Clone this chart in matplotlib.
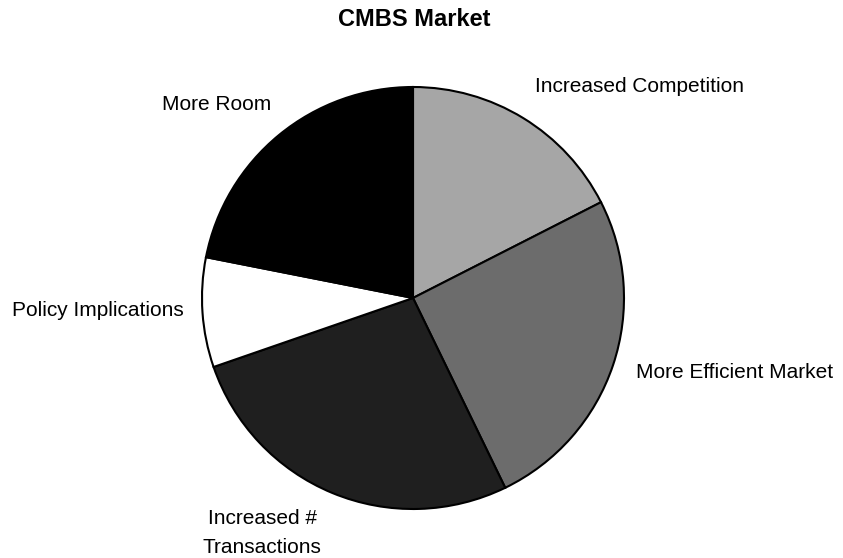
import matplotlib.pyplot as plt

# slice shares (clockwise from 12 o'clock)
labels = ['Increased Competition', 'More Efficient Market', 'Increased #\nTransactions',
          'Policy Implications', 'More Room']
values = [17.5, 25.3, 26.9, 8.4, 21.9]
colors = ['#a6a6a6', '#6c6c6c', '#1f1f1f', '#ffffff', '#000000']

# where each label sits (pixel coords, top-left origin) and its alignment
label_pos = [(535, 87, 'left'), (636, 373, 'left'), (262, 533, 'center'),
             (12, 310, 'left'), (162, 104, 'left')]

plt.rcParams['font.family'] = ['Liberation Sans', 'DejaVu Sans']

W, H = 843, 558
fig = plt.figure(figsize=(W / 100, H / 100), dpi=100)
ax = fig.add_axes([0, 0, 1, 1])

ax.pie(values, colors=colors, startangle=90, counterclock=False,
       center=(413, H - 298), radius=211, frame=True,
       wedgeprops=dict(edgecolor='black', linewidth=1.5))
ax.set_xlim(0, W)
ax.set_ylim(0, H)
ax.set_aspect('equal')
ax.axis('off')

for lab, (x, y, ha) in zip(labels, label_pos):
    ax.text(x, H - y, lab, ha=ha, va='center', fontsize=15, linespacing=1.7)

ax.text(414, H - 20, 'CMBS Market', ha='center', va='center', fontsize=17, fontweight='bold')

fig.savefig('out.png', dpi=100)
